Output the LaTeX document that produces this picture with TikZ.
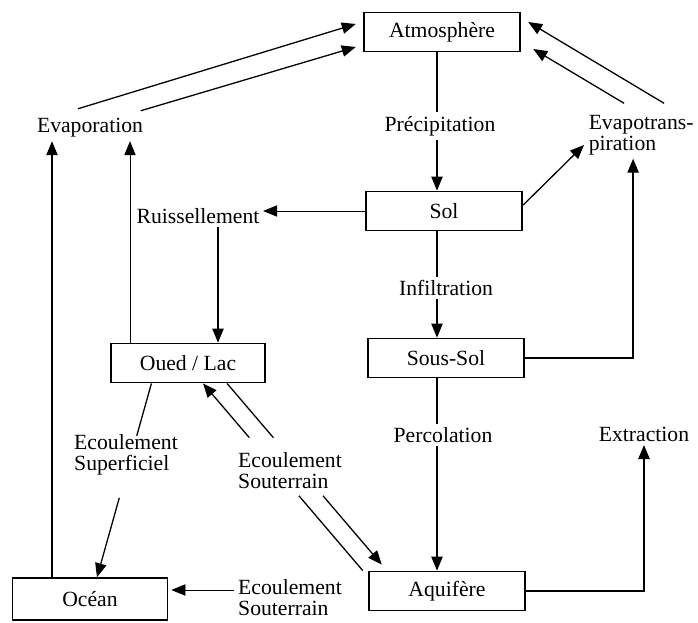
\documentclass[tikz,border=0pt]{standalone}
\usepackage{fontspec}
\setmainfont{Liberation Serif}
\usetikzlibrary{arrows.meta, positioning, calc}

\begin{document}
\begin{tikzpicture}[
  x=0.03cm, y=-0.03cm,
  every node/.style={font=\fontsize{18.5}{18}\selectfont},
  waterbox/.style={draw, line width=1.5pt, minimum width=4.7cm, minimum height=1.17cm, inner sep=0pt},
  flowlabel/.style={inner sep=3pt, align=left},
  flow/.style={line width=1.1pt},
  arrow/.style={-{Triangle[length=0.42cm, width=0.34cm]}, line width=1.1pt},
  thinarrow/.style={-{Triangle[length=0.42cm, width=0.34cm]}, line width=0.6pt},
]

\path[fill=white, use as bounding box] (0,0) rectangle (698,623);

% Reservoirs
\node[waterbox] (atm) at (442,32) {Atmosphère};
\node[waterbox] (sol) at (444,211) {Sol};
\node[waterbox] (sous) at (446,358) {Sous-Sol};
\node[waterbox] (aqui) at (447,591) {Aquifère};
\node[waterbox, minimum width=4.6cm] (oued) at (188,363) {Oued / Lac};
\node[waterbox, minimum width=4.65cm, minimum height=1.25cm] (ocean) at (90,599) {Océan};

% Flux labels
\node[flowlabel] (evap) at (90,128) {Evaporation};
\node[flowlabel] (precip) at (440,126) {Précipitation};
\node[flowlabel, anchor=west] (evapt) at (585,135) {Evapotrans-\\piration};
\node[flowlabel] (ruis) at (198,216) {Ruissellement};
\node[flowlabel] (infil) at (446,288) {Infiltration};
\node[flowlabel] (perco) at (443,435) {Percolation};
\node[flowlabel] (extr) at (644,434) {Extraction};
\node[flowlabel] (superf) at (126,455) {Ecoulement\\Superficiel};
\node[flowlabel] (soutmid) at (290,471) {Ecoulement\\Souterrain};
\node[flowlabel] (soutbas) at (290,598) {Ecoulement\\Souterrain};

% Columns of the vertical connectors
\coordinate (colA) at (437,0);
\coordinate (colB) at (218,0);
\coordinate (colC) at (52,0);
\coordinate (colD) at (130,0);

% Evaporation and evapotranspiration
\draw[arrow] ($(evap.north)+(-12,-6)$) -- ($(atm.west)+(-7,-8)$);
\draw[arrow] ($(evap.north east)+(-6,-4)$) -- ($(atm.west)+(-7,15)$);
\draw[arrow] ($(evapt.north)+(23,-8)$) -- ($(atm.east)+(7,-10)$);
\draw[arrow] ($(evapt.north)+(-17,-8)$) -- ($(atm.east)+(12,17)$);
\draw[arrow] (ocean.north -| colC) -- (evap.south -| colC);
\draw[thinarrow] (oued.north -| colD) -- (evap.south -| colD);
\draw[arrow] ($(sol.east)+(0,-6)$) -- ($(evapt.west)+(-1,10)$);
\draw[arrow] (sous.east) -| ($(evapt.south)+(-8,0)$);

% Vertical chain
\draw[flow] (atm.south -| colA) -- (precip.north -| colA);
\draw[arrow] (precip.south -| colA) -- (sol.north -| colA);
\draw[flow] (sol.south -| colA) -- (infil.north -| colA);
\draw[arrow] (infil.south -| colA) -- (sous.north -| colA);
\draw[flow] (sous.south -| colA) -- (perco.north -| colA);
\draw[arrow] (perco.south -| colA) -- (aqui.north -| colA);
\draw[arrow] (aqui.east) -| (extr.south);

% Runoff
\draw[thinarrow] (sol.west) -- (sol.west -| ruis.east);
\draw[arrow] (ruis.south -| colB) -- (oued.north -| colB);

% Surface flow to the ocean
\coordinate (oS) at ($(oued.south west)+(41,0)$);
\coordinate (cS) at ($(ocean.north)+(7,0)$);
\draw[flow] (oS) -- ($(oS)!0.27!(cS)$);
\draw[arrow] ($(oS)!0.59!(cS)$) -- (cS);

% Groundwater flow, Oued / Lac <-> Aquifere
\coordinate (oA) at ($(oued.south)+(15,0)$);
\coordinate (aA) at ($(aqui.north west)+(-5,0)$);
\coordinate (oB) at ($(oued.south)+(39,0)$);
\coordinate (aB) at ($(aqui.north west)+(14,-6)$);
\draw[arrow] ($(oA)!0.29!(aA)$) -- (oA);
\draw[flow] ($(oA)!0.6!(aA)$) -- (aA);
\draw[flow] (oB) -- ($(oB)!0.3!(aB)$);
\draw[arrow] ($(oB)!0.62!(aB)$) -- (aB);

% Groundwater flow to the ocean
\coordinate (cO) at ($(ocean.east)+(3,-9)$);
\draw[thinarrow] (soutbas.west |- cO) -- (cO);

\end{tikzpicture}
\end{document}
